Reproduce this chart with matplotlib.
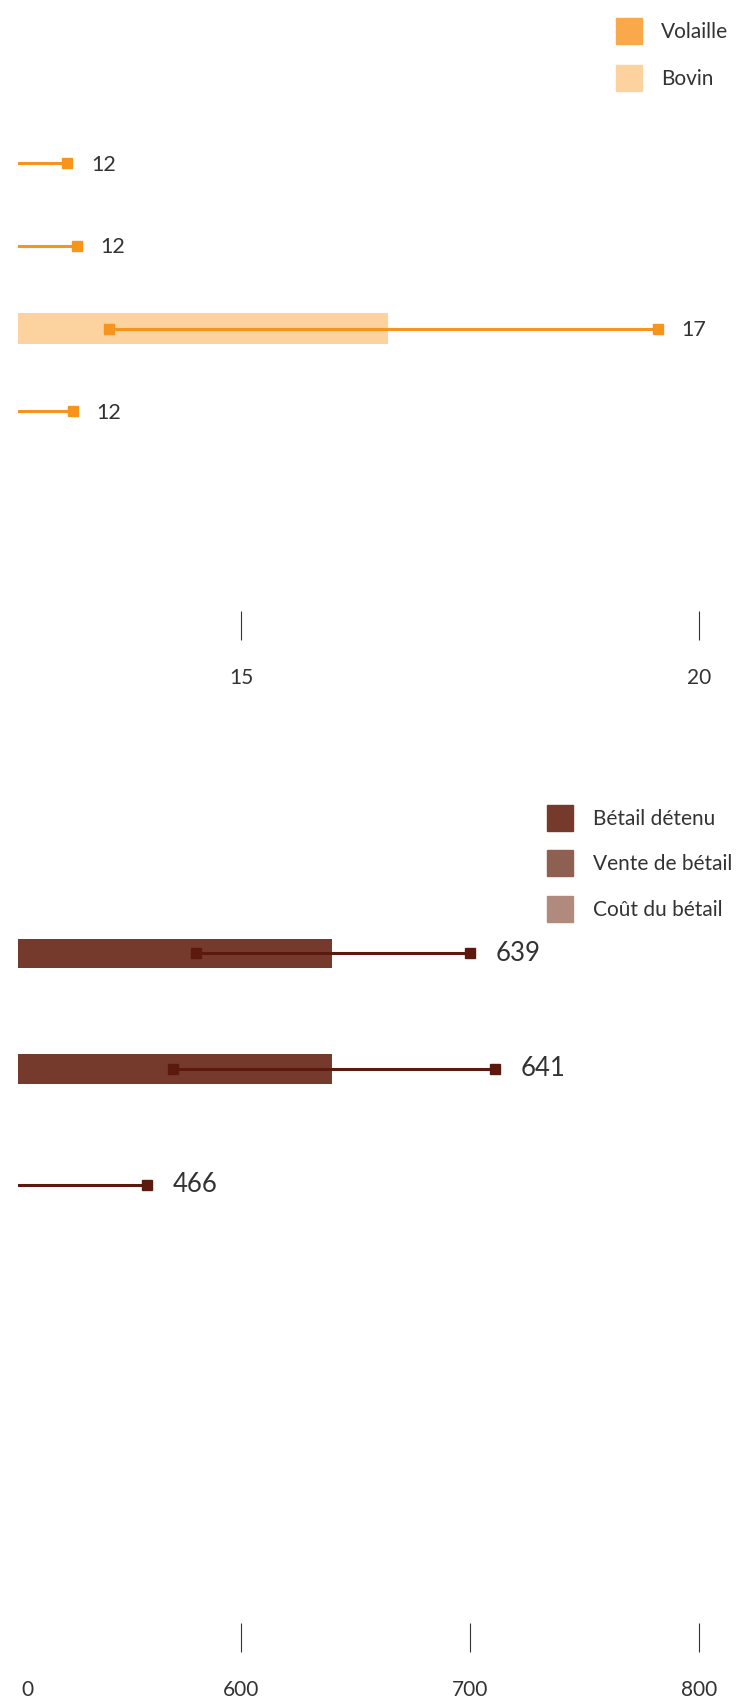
import matplotlib
matplotlib.use('Agg')
import matplotlib.pyplot as plt
from matplotlib.patches import Rectangle

# --- Données ---
# Graphique du haut (Volaille / Bovin)
haut_min, haut_max = 12.565, 20.449
haut_ticks = [15, 20]
volaille_debut = [12.565, 12.565, 13.56, 12.565]
volaille_fin = [13.10, 13.20, 19.55, 13.16]
bovin = [None, None, 16.60, None]
haut_etiquettes = ["12", "12", "17", "12"]

# Graphique du bas (bétail)
bas_min, bas_max = 502.6, 818.0
bas_ticks = [600, 700, 800]
betail_detenu = [639.7, 639.7, None]
betail_debut = [580.1, 570.2, 502.6]
betail_fin = [699.8, 711.1, 558.9]
bas_etiquettes = ["639", "641", "466"]

legende_haut = ["Volaille", "Bovin"]
legende_bas = ["Bétail détenu", "Vente de bétail", "Coût du bétail"]

# Couleurs
c_volaille = '#F9A94A'
c_bovin = '#FCD29F'
c_ligne_haut = '#F7941D'
c_detenu = '#763A2D'
c_vente = '#8E6051'
c_cout = '#B08B7D'
c_ligne_bas = '#5C1A0E'
c_texte = '#333333'

plt.rcParams['font.family'] = ['Lato', 'DejaVu Sans']

W, H = 740, 1697
fig = plt.figure(figsize=(W / 100, H / 100), dpi=100)
fig.patch.set_facecolor('white')

TICK_LEN = 21
TICK_PAD = 20


def fx(px):
    return px / W


def fy(py):
    return 1 - py / H


def axes_px(left, top, right, bottom):
    return fig.add_axes([fx(left), fy(bottom), fx(right) - fx(left), (bottom - top) / H])


def style_axe(ax, ticks):
    for s in ax.spines.values():
        s.set_visible(False)
    ax.set_yticks([])
    ax.set_xticks(ticks)
    ax.tick_params(axis='x', direction='out', length=TICK_LEN, width=0.8, color=c_texte,
                   pad=TICK_PAD, labelsize=15, labelcolor=c_texte)


# --- Graphique du haut ---
ax1 = axes_px(18.4, 108.2, 740, 611.3)
n = len(volaille_fin)
ax1.set_xlim(haut_min, haut_max)
ax1.set_ylim(5.424, -0.668)
for i in range(n):
    if bovin[i] is not None:
        ax1.barh(i, bovin[i] - haut_min, left=haut_min, height=0.367, color=c_bovin, zorder=1)
    ax1.plot([volaille_debut[i], volaille_fin[i]], [i, i], color=c_ligne_haut, lw=2.2, zorder=2)
    ax1.plot(volaille_fin[i], i, marker='s', ms=7.9, color=c_ligne_haut, zorder=3)
    if volaille_debut[i] > haut_min:
        ax1.plot(volaille_debut[i], i, marker='s', ms=7.9, color=c_ligne_haut, zorder=3)
    ax1.annotate(haut_etiquettes[i], (volaille_fin[i], i), xytext=(17, -1),
                 textcoords='offset points', ha='left', va='center',
                 fontsize=15.5, color=c_texte)
style_axe(ax1, haut_ticks)

# --- Graphique du bas ---
ax2 = axes_px(18.4, 898.0, 740, 1622.9)
m = len(betail_fin)
ax2.set_xlim(bas_min, bas_max)
ax2.set_ylim(5.785, -0.477)
for i in range(m):
    if betail_detenu[i] is not None:
        ax2.barh(i, betail_detenu[i] - bas_min, left=bas_min, height=0.252, color=c_detenu, zorder=1)
    ax2.plot([betail_debut[i], betail_fin[i]], [i, i], color=c_ligne_bas, lw=2.2, zorder=2)
    ax2.plot(betail_fin[i], i, marker='s', ms=7.9, color=c_ligne_bas, zorder=3)
    if betail_debut[i] > bas_min:
        ax2.plot(betail_debut[i], i, marker='s', ms=7.9, color=c_ligne_bas, zorder=3)
    ax2.annotate(bas_etiquettes[i], (betail_fin[i], i), xytext=(18.5, 0),
                 textcoords='offset points', ha='left', va='center',
                 fontsize=18.5, color=c_texte)
style_axe(ax2, bas_ticks)
# étiquette "0" au début du domaine
ax2.annotate("0", (bas_min, 0), xycoords=('data', 'axes fraction'),
             xytext=(2, -(TICK_LEN + TICK_PAD)), textcoords='offset points',
             ha='left', va='top', fontsize=15, color=c_texte)

# --- Légendes ---
def legende(noms, couleurs, x_carre, y_premier, pas, x_texte):
    for k, (nom, col) in enumerate(zip(noms, couleurs)):
        y = y_premier + k * pas
        fig.add_artist(Rectangle((fx(x_carre), fy(y + 26)), 26 / W, 26 / H,
                                 transform=fig.transFigure, color=col))
        fig.text(fx(x_texte), fy(y + 14), nom, ha='left', va='center',
                 fontsize=15, color=c_texte)


legende(legende_haut, [c_volaille, c_bovin], 615.6, 18.4, 46.5, 661)
legende(legende_bas, [c_detenu, c_vente, c_cout], 547.4, 805, 45.4, 593)

fig.savefig('out.png', dpi=100, facecolor='white')
